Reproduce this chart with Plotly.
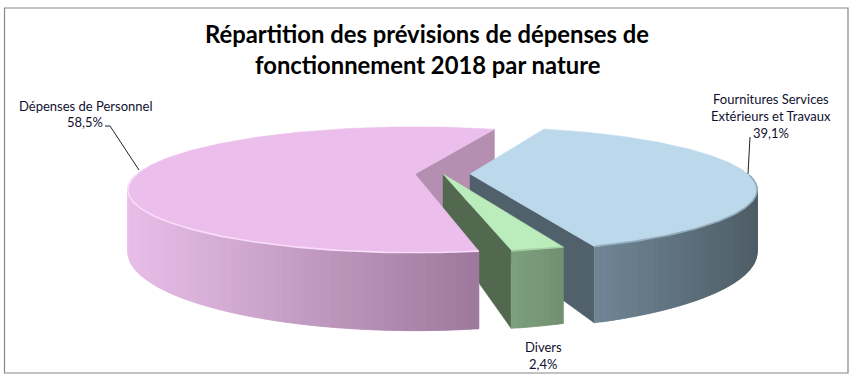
import numpy as np
import plotly.graph_objects as go

categories = ["Fournitures Services\nExtérieurs et Travaux", "Dépenses de Personnel", "Divers"]
values = [39.1, 58.5, 2.4]
value_labels = ["39,1%", "58,5%", "2,4%"]
title_lines = ["Répartition des prévisions de dépenses de", "fonctionnement 2018 par nature"]

top_colors = ["#BCD9EC", "#ECBEEC", "#BBECBB"]
inner_colors = ["#50616B", "#B48FB2", "#53694F"]
wall_from = ["#6F8595", "#E8BEE8", "#7E9F7D"]
wall_to = ["#4F5E67", "#9C779B", "#708F70"]
rim_colors = ["#93ACBC", "#F8DCF8", "#A5D0A5"]

FONT = "Lato"
RX, RY, PERSP, DEPTH, CY = 278, 59, 0.25, 58.5, 174
APEX_X = [470, 415, 443]
START = -70
NUDGE = [0, -1.4, -0.7]


def project(theta_deg, apex_x):
    t = np.radians(theta_deg)
    u, v = np.cos(t), np.sin(t)
    w = 1 / (1 + PERSP * v)
    return apex_x + RX * u * w, CY - RY * v * w, DEPTH * w


def mix(a, b, f):
    ca = [int(a[i:i + 2], 16) for i in (1, 3, 5)]
    cb = [int(b[i:i + 2], 16) for i in (1, 3, 5)]
    return "rgb(%d,%d,%d)" % tuple(round(x + (y - x) * f) for x, y in zip(ca, cb))


fig = go.Figure()


def poly(xs, ys, color):
    fig.add_trace(go.Scatter(x=list(xs) + [xs[0]], y=list(ys) + [ys[0]], mode="lines", fill="toself",
                             fillcolor=color, line=dict(color=color, width=0.5),
                             hoverinfo="skip", showlegend=False))


def wall_between(a, apex_x, color):
    x, y, d = project(a, apex_x)
    poly([apex_x, x, x, apex_x], [CY, y, y + d, CY + DEPTH], color)


def outer_wall(a, b, idx, steps=60):
    # strips overlap their neighbour so no seams show between them
    angles = np.linspace(a, b, steps + 1)
    xs, ys, ds = project(angles, APEX_X[idx])
    xmin, xmax = xs.min(), xs.max()
    for i in range(steps):
        j = min(i + 2, steps)
        f = (xs[i] - xmin) / max(xmax - xmin, 1)
        poly(list(xs[i:j + 1]) + list(xs[i:j + 1])[::-1],
             list(ys[i:j + 1]) + list((ys + ds)[i:j + 1])[::-1],
             mix(wall_from[idx], wall_to[idx], f))


def top_face(a, b, idx):
    angles = np.linspace(a, b, 160)
    xs, ys, _ = project(angles, APEX_X[idx])
    poly([APEX_X[idx]] + list(xs), [CY] + list(ys), top_colors[idx])


def rim(a, b, idx, width=1.6):
    angles = np.linspace(a, b, 100)
    xs, ys, _ = project(angles, APEX_X[idx])
    fig.add_trace(go.Scatter(x=xs, y=ys, mode="lines", line=dict(color=rim_colors[idx], width=width),
                             hoverinfo="skip", showlegend=False))


bounds = []
cur = START
for v, n in zip(values, NUDGE):
    bounds.append((cur + n, cur + v * 3.6 + n))
    cur += v * 3.6
blue, pink, green = bounds

# painter's order: back wall of the large slice, then blue, green, and the large slice on top
wall_between(pink[0], APEX_X[1], inner_colors[1])
wall_between(blue[0], APEX_X[0], inner_colors[0])
outer_wall(blue[0], -1, 0)
top_face(blue[0], blue[1], 0)
rim(blue[0], -1, 0)
wall_between(green[0], APEX_X[2], inner_colors[2])
outer_wall(green[0], green[1], 2, steps=8)
top_face(green[0], green[1], 2)
rim(green[0], green[1], 2)
outer_wall(181, pink[1], 1)
top_face(pink[0], pink[1], 1)
rim(178, pink[1], 1)

# leader lines
fig.add_trace(go.Scatter(x=[105, 110, 139], y=[126, 126, 170], mode="lines",
                         line=dict(color="#222222", width=1), hoverinfo="skip", showlegend=False))
fig.add_trace(go.Scatter(x=[750, 748], y=[137, 174], mode="lines",
                         line=dict(color="#222222", width=1), hoverinfo="skip", showlegend=False))

title_font = dict(size=23.8, color="#000000", family=FONT, weight="bold")
label_font = dict(size=13, color="#101030", family=FONT)
annotations = [
    dict(x=427, y=34, text=title_lines[0], font=title_font),
    dict(x=427, y=65, text=title_lines[1], font=title_font),
    dict(x=85, y=106, text=categories[1], font=label_font),
    dict(x=85, y=122, text=value_labels[1], font=label_font),
    dict(x=771, y=99, text=categories[0].split("\n")[0], font=label_font),
    dict(x=771, y=116, text=categories[0].split("\n")[1], font=label_font),
    dict(x=771, y=133, text=value_labels[0], font=label_font),
    dict(x=543, y=347, text=categories[2], font=label_font),
    dict(x=543, y=364, text=value_labels[2], font=label_font),
]
for a in annotations:
    a.update(xref="x", yref="y", showarrow=False, xanchor="center", yanchor="middle")

fig.update_layout(
    width=855, height=381, margin=dict(l=0, r=0, t=0, b=0), paper_bgcolor="white", plot_bgcolor="white",
    xaxis=dict(range=[0, 855], visible=False, fixedrange=True),
    yaxis=dict(range=[381, 0], visible=False, fixedrange=True),
    annotations=annotations,
    shapes=[dict(type="rect", x0=4.5, y0=8, x1=848, y1=373, xref="x", yref="y",
                 line=dict(color="#868686", width=1.2), fillcolor="rgba(0,0,0,0)", layer="below")],
)
fig.write_html("out.html", config={"displayModeBar": False},
               post_script="document.body.style.margin='0';")
